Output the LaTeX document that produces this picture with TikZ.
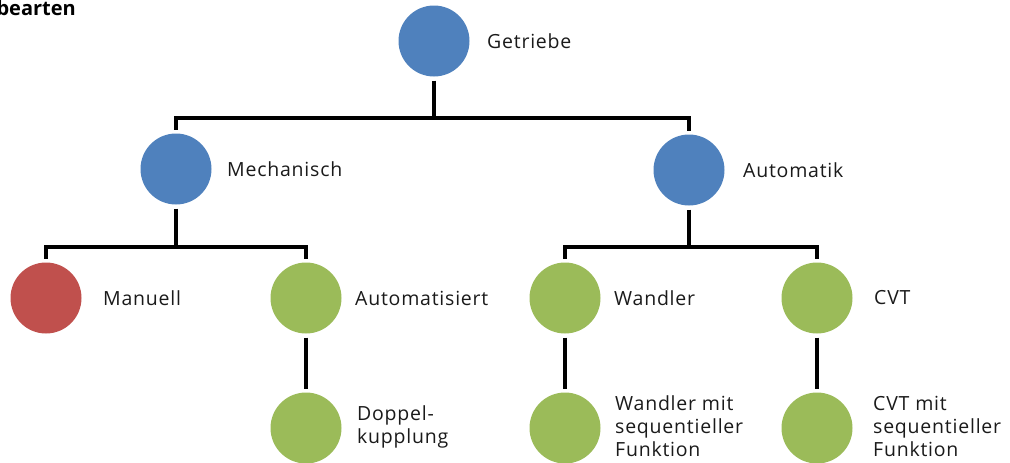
\documentclass[tikz,border=0pt]{standalone}
\usepackage{fontspec}
\setmainfont{Open Sans}
\newfontfamily\lblfont[LetterSpace=4]{Open Sans}
\definecolor{cblue}{HTML}{4F81BD}
\definecolor{cred}{HTML}{C0504D}
\definecolor{cgreen}{HTML}{9BBB59}
\definecolor{ctext}{HTML}{1A1A1A}
\tikzset{
  dot/.style={circle, minimum size=71pt, inner sep=0pt, outer sep=4pt, draw=none},
  lbl/.style={anchor=west, inner sep=0pt, text=ctext, font=\lblfont\fontsize{19.5}{23}\selectfont, align=left},
  conn/.style={line width=4.2pt, draw=black, line join=miter}
}
\begin{document}
\begin{tikzpicture}[x=1pt,y=-1pt]
\useasboundingbox (0,0) rectangle (1010,463);
\clip (0,0) rectangle (1010,463);
\node[anchor=base east, inner sep=0pt, font=\fontsize{20}{22}\selectfont\bfseries, text=black] (title) at (76,16) {bearten};

\node[dot, fill=cblue] (g) at (434,41) {};
\node[dot, fill=cblue] (m) at (176,169) {};
\node[dot, fill=cblue] (a) at (689,170) {};
\node[dot, fill=cred] (man) at (46,298) {};
\node[dot, fill=cgreen] (aut) at (306,298) {};
\node[dot, fill=cgreen] (wan) at (565,298) {};
\node[dot, fill=cgreen] (cvt) at (817,298) {};
\node[dot, fill=cgreen] (dop) at (306,428) {};
\node[dot, fill=cgreen] (wm) at (565,428) {};
\node[dot, fill=cgreen] (cm) at (817,428) {};

\node[lbl] (lg) at (487,41) {Getriebe};
\node[lbl] (lm) at (227,169) {Mechanisch};
\node[lbl] (la) at (743,170) {Automatik};
\node[lbl] (lman) at (103,298) {Manuell};
\node[lbl] (laut) at (355,298) {Automatisiert};
\node[lbl] (lwan) at (614,298) {Wandler};
\node[lbl] (lcvt) at (874,298) {CVT};
\node[lbl] (ldop) at (357,427) {Doppel-\\kupplung};
\node[lbl] (lwm) at (615,426) {Wandler mit\\sequentieller\\Funktion};
\node[lbl] (lcm) at (873,426) {CVT mit\\sequentieller\\Funktion};

\coordinate (j1) at (434,118);
\coordinate (j2) at (176,247);
\coordinate (j3) at (689,247);

\draw[conn] (g.south) -- (j1);
\draw[conn] (m.north) |- (j1) -| (a.north);
\draw[conn] (m.south) -- (j2);
\draw[conn] (man.north) |- (j2) -| (aut.north);
\draw[conn] (a.south) -- (j3);
\draw[conn] (wan.north) |- (j3) -| (cvt.north);
\draw[conn] (aut.south) -- (dop.north);
\draw[conn] (wan.south) -- (wm.north);
\draw[conn] (cvt.south) -- (cm.north);
\end{tikzpicture}
\end{document}
